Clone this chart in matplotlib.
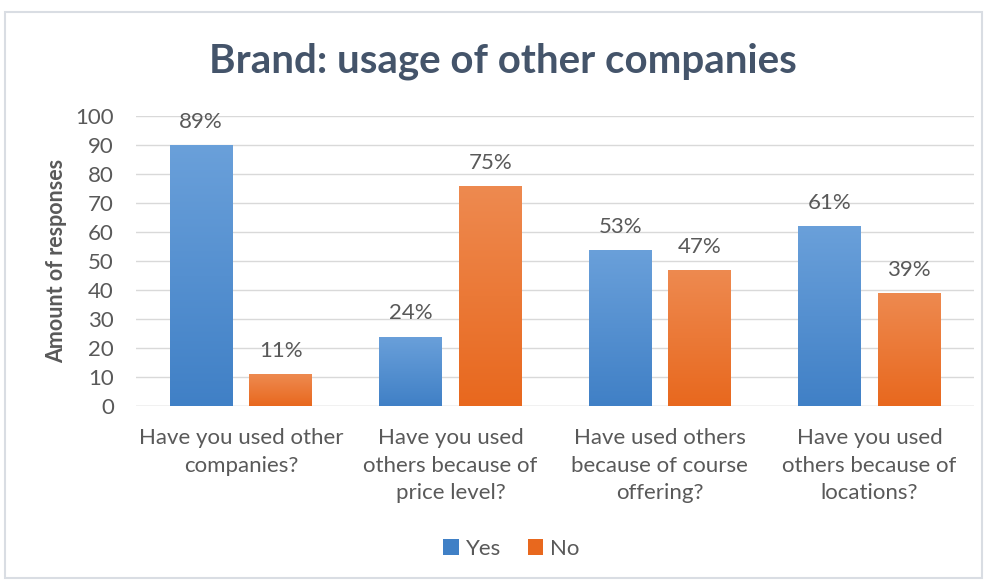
"""
Grouped bar chart: brand usage of other companies (Yes / No).
"""
import matplotlib
matplotlib.use("Agg")
import matplotlib.pyplot as plt
import numpy as np
from matplotlib.colors import LinearSegmentedColormap
from matplotlib.patches import Rectangle

categories = [
    "Have you used other\ncompanies?",
    "Have you used\nothers because of\nprice level?",
    "Have used others\nbecause of course\noffering?",
    "Have you used\nothers because of\nlocations?",
]
yes_values = [90, 24, 54, 62]
no_values = [11, 76, 47, 39]
yes_labels = ["89%", "24%", "53%", "61%"]
no_labels = ["11%", "75%", "47%", "39%"]

TEXT = "#595959"
TITLE = "#44546A"
BLUE = ("#6aa0da", "#4080c6")
ORANGE = ("#ee8a50", "#e8681e")

plt.rcParams["font.family"] = ["Lato", "DejaVu Sans"]


def gradient_fill(ax, bars, colors):
    cmap = LinearSegmentedColormap.from_list("g", [colors[1], colors[0]])
    grad = np.linspace(0, 1, 256).reshape(-1, 1)
    for b in bars:
        x, y = b.get_x(), b.get_y()
        w, h = b.get_width(), b.get_height()
        im = ax.imshow(grad, extent=(x, x + w, y, y + h), origin="lower",
                       cmap=cmap, aspect="auto", zorder=3)
        im.set_clip_path(b)
        b.set_facecolor(colors[1])


def main() -> None:
    fig = plt.figure(figsize=(9.87, 5.81), dpi=100)
    fig.patches.append(Rectangle((0.005, 0.005), 0.99, 0.975, transform=fig.transFigure,
                                 fill=False, edgecolor="#d9dde3", linewidth=1.5))
    ax = fig.add_axes([0.138, 0.301, 0.849, 0.499])

    x = np.arange(len(categories))
    width, off = 0.30, 0.19
    yb = ax.bar(x - off, yes_values, width, color=BLUE[1], label="Yes", zorder=2)
    nb = ax.bar(x + off, no_values, width, color=ORANGE[1], label="No", zorder=2)
    gradient_fill(ax, yb, BLUE)
    gradient_fill(ax, nb, ORANGE)

    for xi, v, t in zip(x - off, yes_values, yes_labels):
        ax.text(xi, v + 4.5, t, ha="center", va="bottom", fontsize=16, color=TEXT)
    for xi, v, t in zip(x + off, no_values, no_labels):
        ax.text(xi, v + 4.5, t, ha="center", va="bottom", fontsize=16, color=TEXT)

    ax.set_xlim(-0.5, len(categories) - 0.5)
    ax.set_ylim(0, 100)
    ax.set_yticks(range(0, 101, 10))
    ax.set_xticks(x)
    ax.set_xticklabels(categories, fontsize=16, color=TEXT, linespacing=1.45, va="top")
    ax.tick_params(axis="y", labelsize=16, labelcolor=TEXT, length=0, pad=16)
    ax.tick_params(axis="x", length=0, pad=16)
    ax.grid(axis="y", color="#d9d9d9", linewidth=1, zorder=0)
    ax.set_axisbelow(True)
    for s in ax.spines.values():
        s.set_visible(False)
    ax.axhline(0, color="#d9d9d9", linewidth=1, zorder=1)

    ax.set_ylabel("Amount of responses", fontsize=15.5, fontweight="bold", color=TEXT, labelpad=6)
    fig.text(0.509, 0.895, "Brand: usage of other companies", ha="center", va="center",
             fontsize=29, fontweight="bold", color=TITLE)

    leg = fig.legend(handles=[yb, nb], labels=["Yes", "No"], loc="center",
                     bbox_to_anchor=(0.518, 0.055), ncol=2, frameon=False,
                     fontsize=16, handlelength=0.7, handleheight=0.7,
                     handletextpad=0.3, columnspacing=1.2)
    for t in leg.get_texts():
        t.set_color(TEXT)

    fig.savefig("out.png", dpi=100, facecolor="white")


if __name__ == "__main__":
    main()
